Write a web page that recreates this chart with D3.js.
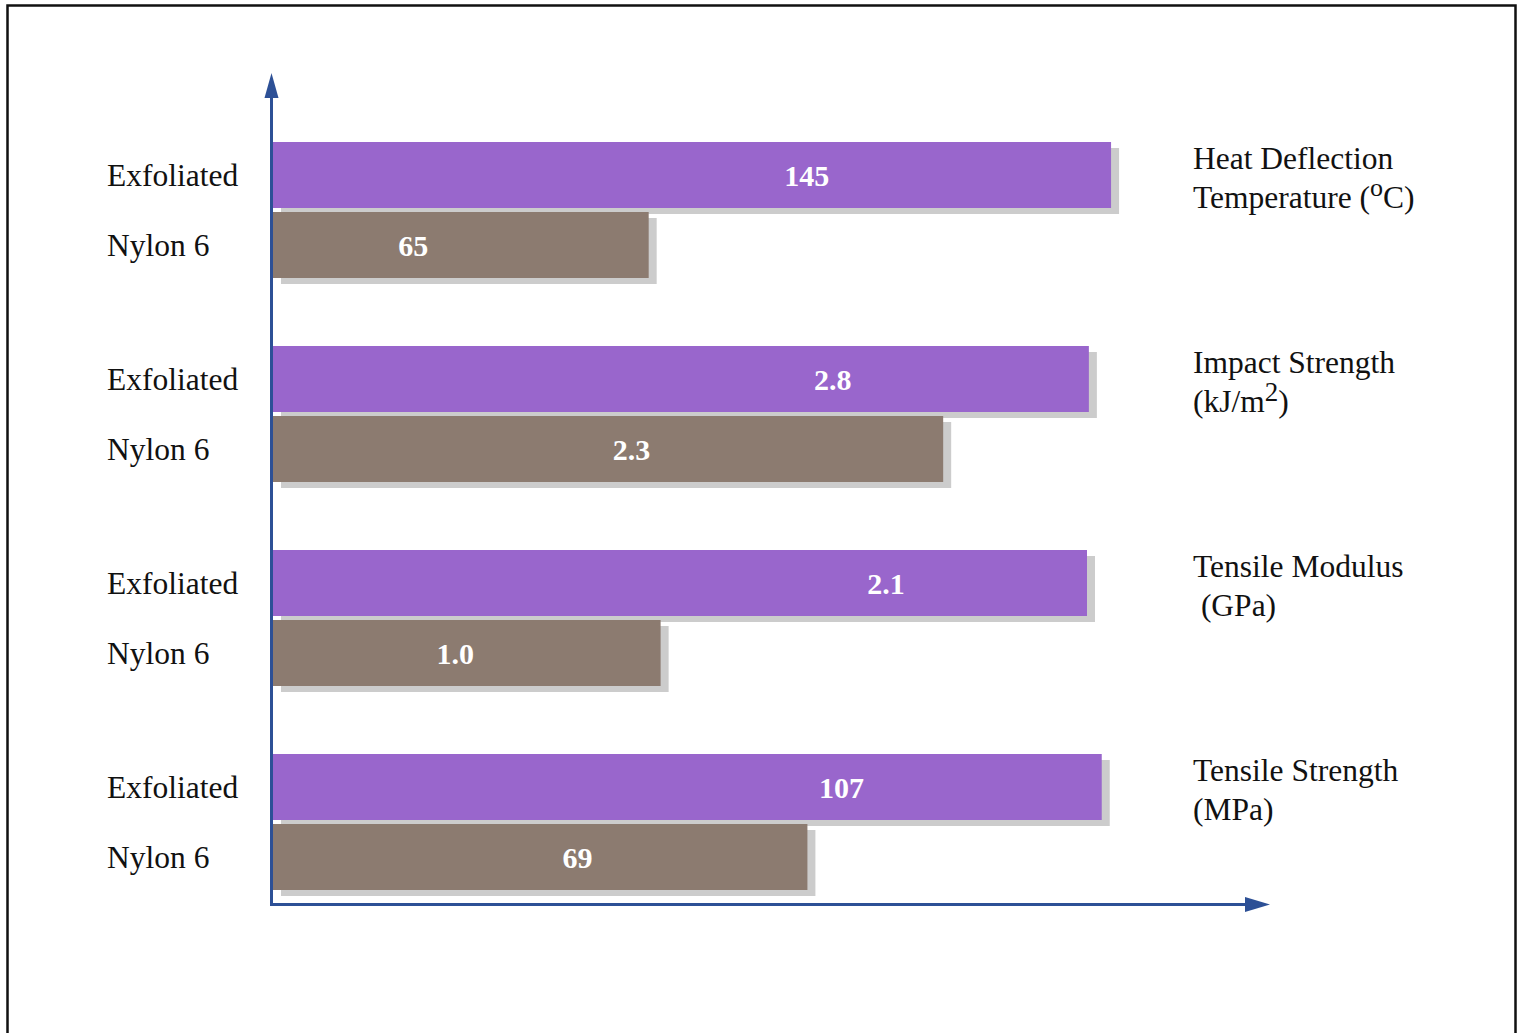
<!DOCTYPE html>
<html>
<head>
<meta charset="utf-8">
<script src="https://cdn.jsdelivr.net/npm/d3@7"></script>
<style>
  html, body { margin: 0; padding: 0; background: #fff; }
  svg { display: block; }
  text { font-family: "Liberation Serif", "Times New Roman", serif; }
</style>
</head>
<body>
<svg id="chart" width="1517" height="1033"></svg>
<script>
// ---------------- data ----------------
const properties = ["Heat Deflection Temperature", "Impact Strength", "Tensile Modulus", "Tensile Strength"];
const propLine1 = ["Heat Deflection", "Impact Strength", "Tensile Modulus", "Tensile Strength"];
const propUnitPre = ["Temperature (", "(kJ/m", " (GPa)", "(MPa)"];
const propUnitSup = ["o", "2", "", ""];
const propUnitPost = ["C)", ")", "", ""];
const seriesNames = ["Exfoliated", "Nylon 6"];
const exfoliated = [145, 2.8, 2.1, 107];
const nylon6 = [65, 2.3, 1.0, 69];
const valueFormats = ["d", ".1f", ".1f", "d"];
// each property is drawn on its own scale
const scaleMax = [146.2, 2.90, 2.18, 109.1];

// ---------------- layout ----------------
const colors = { "Exfoliated": "#9966cc", "Nylon 6": "#8c7b70" };
const shadowColor = "#cccccc";
const axisColor = "#2d5096";
const x0 = 273, x1 = 1118;
const labelFrac = { "Exfoliated": [0.637, 0.686, 0.753, 0.686], "Nylon 6": [0.373, 0.535, 0.47, 0.57] };
const supSize = [26, 27];
const supShift = [12, 11];

const svg = d3.select("#chart");

// outer frame
svg.append("path")
  .attr("d", "M7.5,1040 L7.5,5.5 L1515.5,5.5 L1515.5,1040")
  .attr("fill", "none").attr("stroke", "#111").attr("stroke-width", 2.5);

const yGroup = d3.scaleBand().domain(properties).range([142, 142 + 4 * 204]).paddingInner(0).paddingOuter(0);
const ySeries = d3.scaleBand().domain(seriesNames).range([0, 136]).paddingInner(4 / 70).paddingOuter(0);

const xScales = properties.map((p, i) => d3.scaleLinear().domain([0, scaleMax[i]]).range([x0, x1]));

const rows = [];
properties.forEach((p, i) => {
  rows.push({ prop: p, i, series: "Exfoliated", value: exfoliated[i] });
  rows.push({ prop: p, i, series: "Nylon 6", value: nylon6[i] });
});

// shadows
svg.append("g").selectAll("rect").data(rows).join("rect")
  .attr("x", d => x0 + 8)
  .attr("y", d => yGroup(d.prop) + ySeries(d.series) + 6)
  .attr("width", d => xScales[d.i](d.value) - x0)
  .attr("height", ySeries.bandwidth())
  .attr("fill", shadowColor);

// bars
svg.append("g").selectAll("rect").data(rows).join("rect")
  .attr("x", x0)
  .attr("y", d => yGroup(d.prop) + ySeries(d.series))
  .attr("width", d => xScales[d.i](d.value) - x0)
  .attr("height", ySeries.bandwidth())
  .attr("fill", d => colors[d.series]);

// value labels
svg.append("g").selectAll("text").data(rows).join("text")
  .attr("x", d => x0 + (xScales[d.i](d.value) - x0) * labelFrac[d.series][d.i])
  .attr("y", d => yGroup(d.prop) + ySeries(d.series) + ySeries.bandwidth() / 2 + 11)
  .attr("text-anchor", "middle")
  .attr("fill", "#fff")
  .attr("font-weight", "bold")
  .attr("font-size", 30)
  .text(d => d3.format(valueFormats[d.i])(d.value));

// left series labels
svg.append("g").selectAll("text").data(rows).join("text")
  .attr("x", 107)
  .attr("y", d => yGroup(d.prop) + ySeries(d.series) + ySeries.bandwidth() / 2 + 11)
  .attr("fill", "#111")
  .attr("font-size", 31.5)
  .text(d => d.series);

// right property labels
const pg = svg.append("g");
properties.forEach((p, i) => {
  const top = yGroup(p);
  pg.append("text")
    .attr("x", 1193).attr("y", top + 27)
    .attr("fill", "#111").attr("font-size", 31.5)
    .text(propLine1[i]);
  const t = pg.append("text")
    .attr("x", 1193).attr("y", top + 66)
    .attr("fill", "#111").attr("font-size", 31.5)
    .style("white-space", "pre");
  t.append("tspan").text(propUnitPre[i]);
  if (propUnitSup[i]) {
    t.append("tspan").attr("font-size", supSize[i]).attr("dy", -supShift[i]).text(propUnitSup[i]);
    t.append("tspan").attr("dy", supShift[i]).text(propUnitPost[i]);
  }
});

// axes
const ax = svg.append("g");
ax.append("line").attr("x1", 271.5).attr("y1", 905).attr("x2", 271.5).attr("y2", 92)
  .attr("stroke", axisColor).attr("stroke-width", 3);
ax.append("path").attr("d", "M271.5,73 L264.5,98 L278.5,98 Z").attr("fill", axisColor);
ax.append("line").attr("x1", 270).attr("y1", 904.5).attr("x2", 1250).attr("y2", 904.5)
  .attr("stroke", axisColor).attr("stroke-width", 3);
ax.append("path").attr("d", "M1270,904.5 L1245,897 L1245,912 Z").attr("fill", axisColor);
</script>
</body>
</html>
